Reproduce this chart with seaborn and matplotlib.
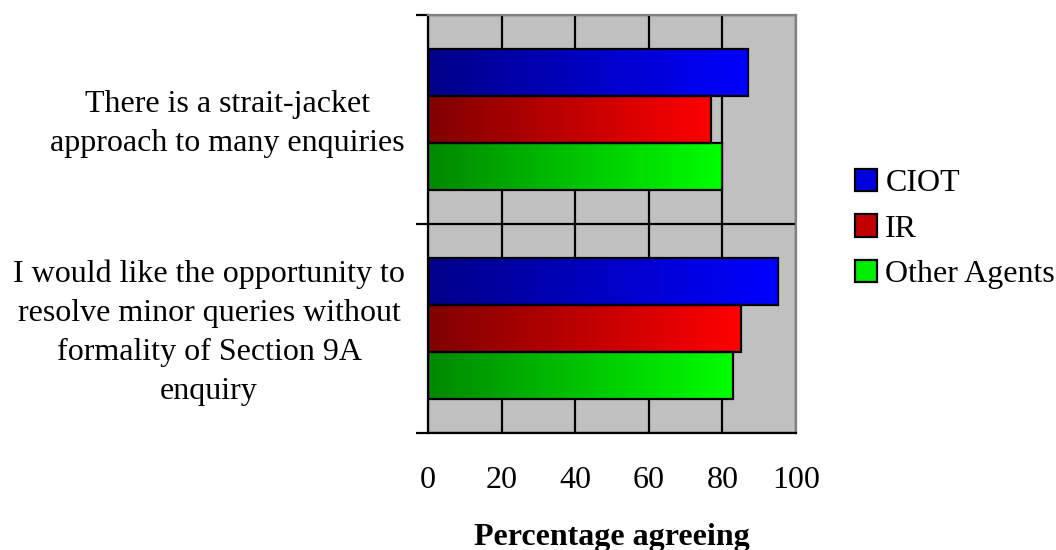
import numpy as np
import pandas as pd
import matplotlib
matplotlib.use("Agg")
import matplotlib.pyplot as plt
import seaborn as sns
from matplotlib.colors import LinearSegmentedColormap
from matplotlib.patches import Patch
from matplotlib.ticker import FixedLocator

categories = [
    "There is a strait-jacket\napproach to many enquiries",
    "I would like the opportunity to\nresolve minor queries without\nformality of Section 9A\nenquiry",
]
series = ["CIOT", "IR", "Other Agents"]
ciot = [87, 95]
ir = [77, 85]
other = [80, 83]
x_ticks = [0, 20, 40, 60, 80, 100]

grad_dark = {"CIOT": "#000088", "IR": "#800000", "Other Agents": "#008800"}
grad_bright = {"CIOT": "#0000FF", "IR": "#FF0000", "Other Agents": "#00FF00"}
legend_colors = {"CIOT": "#0000DD", "IR": "#C00000", "Other Agents": "#00EE00"}

df = pd.DataFrame({
    "category": categories * 3,
    "series": [s for s in series for _ in categories],
    "value": ciot + ir + other,
})

sns.set_style("white")
plt.rcParams["font.family"] = ["Liberation Serif", "DejaVu Serif"]
plt.rcParams["text.color"] = "black"
plt.rcParams["axes.labelcolor"] = "black"
plt.rcParams["xtick.color"] = "black"
plt.rcParams["ytick.color"] = "black"
plt.rcParams["xtick.labelcolor"] = "black"
plt.rcParams["ytick.labelcolor"] = "black"
FS = 23

fig = plt.figure(figsize=(10.56, 5.5), dpi=100)
ax = fig.add_axes([428 / 1056, 1 - 433 / 550, (796 - 428) / 1056, (433 - 15) / 550])

sns.barplot(data=df, y="category", x="value", hue="series", order=categories,
            hue_order=series, orient="h", width=0.675, dodge=True, ax=ax,
            palette=[grad_bright[s] for s in series], legend=False,
            edgecolor="black", linewidth=1.6, saturation=1)

# gradient fill for each bar
for cont, s in zip(ax.containers, series):
    cmap = LinearSegmentedColormap.from_list(s, [grad_dark[s], grad_bright[s]])
    for bar in cont:
        bar.set_facecolor("none")
        bar.set_zorder(3)
        x0, y0 = bar.get_x(), bar.get_y()
        w, h = bar.get_width(), bar.get_height()
        grad = np.linspace(0, 1, 256).reshape(1, -1)
        im = ax.imshow(grad, cmap=cmap, aspect="auto",
                       extent=[x0, x0 + w, y0 + h, y0], zorder=2.5,
                       interpolation="bilinear")
        im.set_clip_path(bar)

ax.set_xlim(0, 100)
ax.set_ylim(1.5, -0.5)
ax.set_facecolor("#C0C0C0")
ax.set_axisbelow(True)

ax.set_xticks(x_ticks)
ax.set_xticklabels([str(t) for t in x_ticks], fontsize=FS, color="black")
ax.xaxis.grid(True, color="black", linewidth=1.6, zorder=1)
ax.tick_params(axis="x", length=8, width=1.6, color="black", pad=16, direction="out")

ax.set_yticks(range(len(categories)))
ax.set_yticklabels(categories, fontsize=FS, multialignment="center", linespacing=1.45,
                   color="black")
ax.yaxis.set_minor_locator(FixedLocator([-0.5, 0.5, 1.5]))
ax.tick_params(axis="y", which="major", length=0, pad=17)
ax.tick_params(axis="y", which="minor", length=9, width=1.6, color="black", left=True)
ax.yaxis.grid(True, which="minor", color="black", linewidth=1.6)
ax.yaxis.grid(False, which="major")
for lab in ax.get_yticklabels():
    lab.set_horizontalalignment("center")
fig.canvas.draw()
# shift centered labels so that their right edge sits left of the axis
renderer = fig.canvas.get_renderer()
for lab in ax.get_yticklabels():
    bb = lab.get_window_extent(renderer)
    dx = (bb.x1 - 405) / fig.dpi
    dy = 4 / fig.dpi
    lab.set_transform(lab.get_transform() +
                      matplotlib.transforms.ScaledTranslation(-dx, dy, fig.dpi_scale_trans))

ax.set_xlabel("Percentage agreeing", fontsize=FS, fontweight="bold", labelpad=20, color="black")
ax.set_ylabel("")

for side in ["left", "bottom"]:
    ax.spines[side].set_color("black")
    ax.spines[side].set_linewidth(1.6)
for side in ["top", "right"]:
    ax.spines[side].set_color("#808080")
    ax.spines[side].set_linewidth(1.6)

handles = [Patch(facecolor=legend_colors[s], edgecolor="black", linewidth=1.6) for s in series]
fig.legend(handles, series, loc="center left", bbox_to_anchor=(855 / 1056, 1 - 229 / 550),
           frameon=False, fontsize=FS, handlelength=0.7, handleheight=0.7,
           handletextpad=0.25, labelspacing=0.5, borderpad=0, borderaxespad=0,
           labelcolor="black")

fig.savefig("out.png", dpi=100)
